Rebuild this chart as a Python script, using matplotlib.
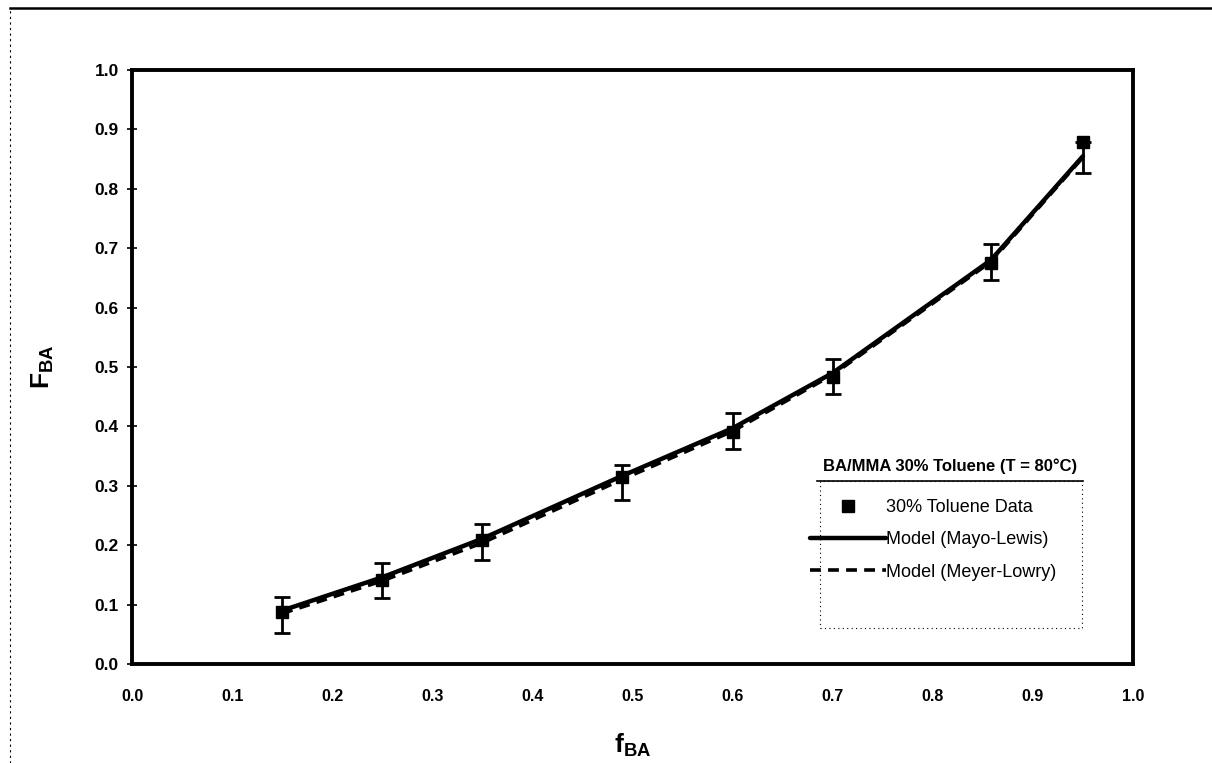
import matplotlib
matplotlib.use("Agg")
import matplotlib.pyplot as plt
from matplotlib.lines import Line2D
from matplotlib.patches import Rectangle

plt.rcParams['font.family'] = ['Liberation Sans', 'DejaVu Sans']
plt.rcParams['mathtext.fontset'] = 'custom'
plt.rcParams['mathtext.rm'] = 'Liberation Sans'
plt.rcParams['mathtext.bf'] = 'Liberation Sans:bold'
plt.rcParams['mathtext.it'] = 'Liberation Sans:italic'

# Experimental composition data (30% toluene)
f_ba = [0.15, 0.25, 0.35, 0.49, 0.60, 0.70, 0.858, 0.95]
F_ba = [0.088, 0.141, 0.209, 0.315, 0.390, 0.483, 0.675, 0.879]
err_low = [0.036, 0.030, 0.034, 0.039, 0.028, 0.028, 0.029, 0.052]
err_high = [0.025, 0.029, 0.027, 0.020, 0.033, 0.030, 0.032, 0.0]

# Model predictions
f_model = [0.15, 0.25, 0.35, 0.49, 0.60, 0.70, 0.858, 0.95]
F_mayo_lewis = [0.090, 0.146, 0.211, 0.317, 0.397, 0.490, 0.680, 0.855]
F_meyer_lowry = [0.085, 0.140, 0.204, 0.311, 0.392, 0.487, 0.677, 0.853]

x_ticks = [0.0, 0.1, 0.2, 0.3, 0.4, 0.5, 0.6, 0.7, 0.8, 0.9, 1.0]
y_ticks = [0.0, 0.1, 0.2, 0.3, 0.4, 0.5, 0.6, 0.7, 0.8, 0.9, 1.0]

W, H = 1212, 763
fig = plt.figure(figsize=(W / 100, H / 100), dpi=100)
ax = fig.add_axes([132 / W, 1 - 664 / H, (1133 - 132) / W, (664 - 70) / H])

ax.plot(f_model, F_mayo_lewis, color='black', lw=3.2, solid_capstyle='round',
        label='Model (Mayo-Lewis)', zorder=3)
ax.plot(f_model, F_meyer_lowry, color='black', lw=2.6, ls=(0, (3, 2)),
        label='Model (Meyer-Lowry)', zorder=2)
ax.errorbar(f_ba, F_ba, yerr=[err_low, err_high], fmt='none', ecolor='black',
            elinewidth=2, capsize=6, capthick=2, zorder=4)
ax.plot(f_ba, F_ba, ls='none', marker='s', ms=9, color='black',
        label='30% Toluene Data', zorder=5)

ax.set_xlim(0, 1)
ax.set_ylim(0, 1)
ax.set_xticks(x_ticks)
ax.set_yticks(y_ticks)
ax.set_xticklabels([f"{v:.1f}" for v in x_ticks], fontsize=11.5, fontweight='bold')
ax.set_yticklabels([f"{v:.1f}" for v in y_ticks], fontsize=12.5, fontweight='bold')
ax.tick_params(axis='x', length=0, pad=18)
ax.tick_params(axis='y', direction='inout', length=7, width=1.2, pad=6)
for s in ax.spines.values():
    s.set_linewidth(2.8)

ax.set_xlabel(r'$\mathbf{f_{BA}}$', fontsize=19, labelpad=20)
ax.set_ylabel(r'$\mathbf{F_{BA}}$', fontsize=19, labelpad=28)

# Legend: entries without frame, dotted box drawn around them
handles, labels = ax.get_legend_handles_labels()
order = [2, 0, 1]
leg = ax.legend([handles[i] for i in order], [labels[i] for i in order],
                loc='upper left', bbox_to_anchor=(0.677, 0.278),
                borderaxespad=0, borderpad=0, fontsize=13, handlelength=4.2,
                handletextpad=0.0, labelspacing=0.85, frameon=False)
ax.add_patch(Rectangle((0.687, 0.0606), 0.262, 0.2474, transform=ax.transAxes,
                       fill=False, edgecolor='black', lw=0.8,
                       ls=(0, (1, 3)), clip_on=False, zorder=6))

ax.text(0.8175, 0.333, 'BA/MMA 30% Toluene (T = 80°C)', transform=ax.transAxes,
        ha='center', va='center', fontsize=12, fontweight='bold')
ax.plot([0.684, 0.950], [0.308, 0.308], transform=ax.transAxes, color='black',
        lw=1.2, clip_on=False, zorder=6)

# Outer chart-area border
fig.add_artist(Line2D([10 / W, 1.0], [1 - 8 / H, 1 - 8 / H], color='black', lw=1.8))
fig.add_artist(Line2D([10 / W, 10 / W], [0, 1 - 8 / H], color='black', lw=0.8,
                      ls=(0, (2, 3))))

fig.savefig('out.png', dpi=100)
